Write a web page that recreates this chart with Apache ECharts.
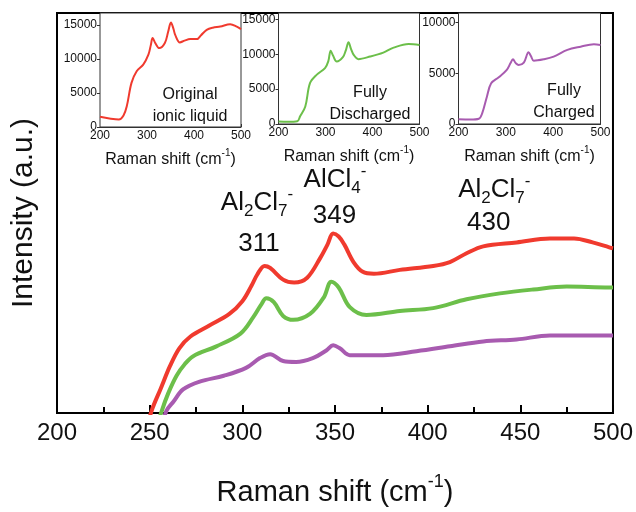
<!DOCTYPE html>
<html><head><meta charset="utf-8">
<script src="https://cdn.jsdelivr.net/npm/echarts@6/dist/echarts.min.js"></script>
<style>html,body{margin:0;padding:0;background:#fff}#c{width:636px;height:512px}</style>
</head><body><div id="c"></div>
<script>
// ---- Data ----
const mainTicks = [200, 250, 300, 350, 400, 450, 500];
const insetTicksX = [200, 300, 400, 500];
const mainRed = [[248,-20],[251,2],[256,25],[261,48],[266,66],[272,78],[282,89],[293,101],[300,114],[305,130],[308,141],[312,150],[315,148],[322,136],[328,133],[335,138],[342,158],[346,172],[349,183],[352,180],[355,172],[360,154],[365,144],[371,142],[385,146],[403,150],[412,154],[421,163],[430,170],[448,174],[466,178],[479,178],[489,174],[498,169],[500,168]];
const mainGreen = [[253,-20],[256.5,2],[260,20],[264.5,38],[269,50],[273.5,58],[286,68],[299,81],[306,98],[310,110],[313,117],[317,113],[322,99],[327.5,95],[336.5,101],[344,118],[348,134],[352,128],[358,108],[367,100],[385,104],[403,107],[421,116],[439,122],[457,126],[475,129],[498,128],[500,128]];
const mainPurple = [[256,-20],[259,2],[263,12],[268,24],[277,32],[290,38],[302,46],[309.5,56],[315,60],[322,53],[329,52],[338,56],[345.5,64],[349,69],[352.6,66],[358,59],[376,59],[394,63],[412,68],[430,73],[448,75],[466,79],[500,79]];
const insetOriginal = [[200,1500],[220,1250],[240,1100],[250,1700],[257,3070],[267,6490],[278,8190],[292,9170],[303,10630],[308,12000],[312,13070],[318,12300],[326,11600],[338,12340],[345,14000],[351,15350],[356,14500],[360,13550],[370,12430],[380,12700],[392,12920],[406,12920],[415,13500],[427,14280],[440,14600],[456,14770],[477,15120],[491,14770],[500,14390]];
const insetDischarged = [[200,350],[220,320],[240,400],[246,1100],[257,2510],[267,5850],[281,7040],[299,8000],[306,9000],[311,10510],[316,9800],[324,8940],[337,9570],[343,10500],[349,11710],[354,10800],[360,9900],[370,9290],[395,9660],[423,10230],[445,10940],[477,11470],[500,11330]];
const insetCharged = [[200,460],[225,440],[243,520],[250,1050],[260,2690],[269,4010],[285,4600],[302,5330],[310,6000],[315,6380],[321,6000],[327,5820],[338,6050],[348,7070],[353,6700],[359,6240],[380,6380],[401,6640],[430,7300],[458,7620],[486,7860],[500,7790]];
const insetMax = [16760, 15900, 10940];
const insetNames = ['Original\nionic liquid', 'Fully\nDischarged', 'Fully\nCharged'];
// annotations: [x, y, text]
const annotations = [
  [307.9, 214, '{t|Al}{s|2}{t|Cl}{s|7}{p|-}'],
  [309, 173, '{t|311}'],
  [350, 238, '{t|AlCl}{s|4}{p|-}'],
  [349.7, 201, '{t|349}'],
  [436, 228, '{t|Al}{s|2}{t|Cl}{s|7}{p|-}'],
  [433, 194, '{t|430}']
];

const FF = 'Liberation Sans, Arial, sans-serif';
const colors = ['#f03a2e', '#6cbf4a', '#a85bb0'];
const chart = echarts.init(document.getElementById('c'), null, {renderer: 'canvas'});

const annRich = {
  t: {fontSize: 26, fontFamily: FF, color: '#111', lineHeight: 34, verticalAlign: 'middle'},
  s: {fontSize: 17, fontFamily: FF, color: '#111', lineHeight: 34, verticalAlign: 'bottom'},
  p: {fontSize: 17, fontFamily: FF, color: '#111', lineHeight: 34, verticalAlign: 'top'}
};

const insetGrids = [
  {left: 100, top: 13, width: 141, height: 114},
  {left: 278.5, top: 13, width: 141, height: 111},
  {left: 458.5, top: 13, width: 142, height: 111}
];

const grids = [{left: 57, right: 23, top: 13, bottom: 91, show: true, borderColor: '#000', borderWidth: 2, z: 0}];
insetGrids.forEach(g => grids.push(Object.assign({show: true, borderColor: '#333', borderWidth: 1, backgroundColor: '#fff', z: 5}, g)));

const xAxes = [{
  gridIndex: 0, type: 'value', min: 200, max: 500, interval: 50,
  axisLine: {show: true, lineStyle: {color: '#000', width: 2}},
  axisTick: {show: true, inside: true, length: 8, lineStyle: {color: '#000', width: 2}},
  minorTick: {show: true, splitNumber: 2, length: 6, lineStyle: {color: '#000', width: 2}},
  splitLine: {show: false},
  axisLabel: {fontSize: 24, fontFamily: FF, color: '#111', margin: 8,
    formatter: v => mainTicks.includes(v) ? String(v) : ''},
  name: '{t|Raman shift (cm}{p|-1}{t|)}', nameLocation: 'middle', nameGap: 60,
  nameTextStyle: {rich: {
    t: {fontSize: 29, fontFamily: FF, color: '#111', lineHeight: 34, verticalAlign: 'bottom'},
    p: {fontSize: 18, fontFamily: FF, color: '#111', lineHeight: 34, verticalAlign: 'top'}
  }}
}];
const yAxes = [{
  gridIndex: 0, type: 'value', min: 0, max: 408,
  axisLine: {show: true, lineStyle: {color: '#000', width: 2}},
  axisTick: {show: false}, axisLabel: {show: false}, splitLine: {show: false},
  name: 'Intensity (a.u.)', nameLocation: 'middle', nameGap: 18,
  nameTextStyle: {fontSize: 30, fontFamily: FF, color: '#111'}
}];
for (let i = 0; i < 3; i++) {
  xAxes.push({
    gridIndex: i + 1, type: 'value', min: 200, max: 500, interval: 100,
    axisLine: {show: true, lineStyle: {color: '#333', width: 1}},
    axisTick: {show: true, inside: true, length: 3, lineStyle: {color: '#333'}},
    splitLine: {show: false},
    axisLabel: {fontSize: 12, fontFamily: FF, color: '#111', margin: 3,
      formatter: v => insetTicksX.includes(v) ? String(v) : ''},
    name: '{t|Raman shift (cm}{p|-1}{t|)}', nameLocation: 'middle', nameGap: 21,
    nameTextStyle: {rich: {
      t: {fontSize: 16, fontFamily: FF, color: '#111', lineHeight: 20, verticalAlign: 'bottom'},
      p: {fontSize: 10, fontFamily: FF, color: '#111', lineHeight: 20, verticalAlign: 'top'}
    }}
  });
  yAxes.push({
    gridIndex: i + 1, type: 'value', min: 0, max: insetMax[i], interval: 5000,
    axisLine: {show: true, lineStyle: {color: '#333', width: 1}},
    axisTick: {show: true, length: 3, lineStyle: {color: '#333'}},
    splitLine: {show: false},
    axisLabel: {fontSize: 12, fontFamily: FF, color: '#111', margin: 3, showMaxLabel: false,
      formatter: v => String(v)}
  });
}

const insetData = [insetOriginal, insetDischarged, insetCharged];
const series = [
  {type: 'line', xAxisIndex: 0, yAxisIndex: 0, data: mainRed, color: colors[0]},
  {type: 'line', xAxisIndex: 0, yAxisIndex: 0, data: mainGreen, color: colors[1]},
  {type: 'line', xAxisIndex: 0, yAxisIndex: 0, data: mainPurple, color: colors[2]}
].map(s => Object.assign(s, {showSymbol: false, smooth: 0.35, clip: true, lineStyle: {width: 4, color: s.color}, z: 2, silent: true}));
series[0].markPoint = {
  symbol: 'circle', symbolSize: 0, silent: true,
  label: {show: true, position: 'inside', formatter: p => p.data.txt, rich: annRich},
  data: annotations.map(a => ({coord: [a[0], a[1]], txt: a[2]}))
};
insetData.forEach((d, i) => series.push({
  type: 'line', xAxisIndex: i + 1, yAxisIndex: i + 1, data: d, showSymbol: false, smooth: 0.35,
  lineStyle: {width: 2, color: colors[i]}, color: colors[i], z: 6, silent: true
}));

const insetLabelPos = [[190, 106], [370, 104], [564, 102]];
const graphic = insetNames.map((t, i) => ({
  type: 'text', x: insetLabelPos[i][0], y: insetLabelPos[i][1], z: 100,
  style: {text: t, fontSize: 16, fontFamily: FF, fill: '#111', align: 'center', verticalAlign: 'middle', lineHeight: 22}
}));

chart.setOption({
  animation: false, backgroundColor: '#fff',
  grid: grids, xAxis: xAxes, yAxis: yAxes, series: series, graphic: graphic
});
</script></body></html>
